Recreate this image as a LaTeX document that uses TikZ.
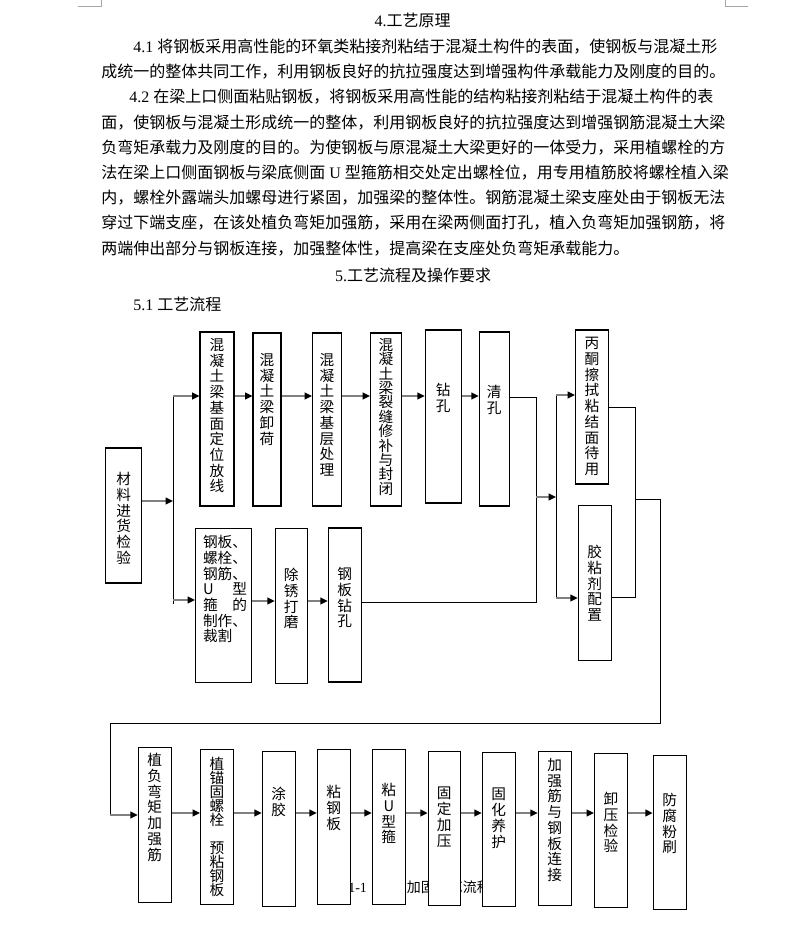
\documentclass[tikz,border=0pt]{standalone}
\usepackage{fontspec}
\setmainfont{Liberation Serif}
\newfontfamily\cjk{Noto Sans CJK SC}
\usetikzlibrary{arrows.meta}
\newcommand{\rmn}[1]{{\rmfamily #1}}

\begin{document}
\begin{tikzpicture}[x=0.75pt, y=-0.75pt,
    txt/.style={anchor=base west, inner sep=0pt, font=\cjk\fontsize{12}{14}\selectfont},
    ttl/.style={txt, anchor=base},
    box/.style={draw, rectangle, fill=white, line width=0.8pt, inner sep=0pt},
    sz/.style 2 args={minimum width=#1*0.75pt, minimum height=#2*0.75pt},
    vt/.style={anchor=north, align=center, inner sep=0pt, font=\cjk\fontsize{11}{11.8}\selectfont},
    ln/.style={draw, line width=0.75pt},
    arr/.style={draw=gray, line width=1.5pt, -{Triangle[length=5.5pt, width=5pt, color=black]}},
    cropln/.style={draw=gray!70, line width=0.5pt}]
    \useasboundingbox (0,0) rectangle (794,927);

    % page corner marks
    \draw[cropln] (78,6) -- (101,6) -- (101,0);
    \draw[cropln] (748,6) -- (725,6) -- (725,0);

    % text above the chart
    \node[ttl] (t4) at (412.5,26.7) {\rmn{4.}工艺原理};
    \node[txt] (p1) at (133,52.5) {\rmn{4.1 }将钢板采用高性能的环氧类粘接剂粘结于混凝土构件的表面，使钢板与混凝土形};
    \node[txt] (p2) at (101,77.7) {成统一的整体共同工作，利用钢板良好的抗拉强度达到增强构件承载能力及刚度的目的。};
    \node[txt] (p3) at (129,102.9) {\rmn{4.2 }在梁上口侧面粘贴钢板，将钢板采用高性能的结构粘接剂粘结于混凝土构件的表};
    \node[txt] (p4) at (101,128.1) {面，使钢板与混凝土形成统一的整体，利用钢板良好的抗拉强度达到增强钢筋混凝土大梁};
    \node[txt] (p5) at (101,153.3) {负弯矩承载力及刚度的目的。为使钢板与原混凝土大梁更好的一体受力，采用植螺栓的方};
    \node[txt] (p6) at (101,178.5) {法在梁上口侧面钢板与梁底侧面\rmn{ U }型箍筋相交处定出螺栓位，用专用植筋胶将螺栓植入梁};
    \node[txt] (p7) at (101,203.7) {内，螺栓外露端头加螺母进行紧固，加强梁的整体性。钢筋混凝土梁支座处由于钢板无法};
    \node[txt] (p8) at (101,228.9) {穿过下端支座，在该处植负弯矩加强筋，采用在梁两侧面打孔，植入负弯矩加强钢筋，将};
    \node[txt] (p9) at (101,254.1) {两端伸出部分与钢板连接，加强整体性，提高梁在支座处负弯矩承载能力。};
    \node[ttl] (t5) at (413,281) {\rmn{5.}工艺流程及操作要求};
    \node[txt] (t51) at (133,310) {\rmn{5.1 }工艺流程};

    % caption, partly hidden behind the bottom row
    \node[txt, font=\cjk\fontsize{10.5}{12}\selectfont] (cap) at (334,892) {图\rmn{1-1}\hspace{9pt}粘钢加固工艺流程图};

    % boxes
    \node[box, sz={36}{135}] (cailiao) at (123.7,515.5) {};
    \node[box, sz={34}{174}] (jimian) at (217,419) {};
    \node[box, sz={28}{173}] (xiehe) at (267,419.5) {};
    \node[box, sz={29}{173}] (jiceng) at (327,419.5) {};
    \node[box, sz={31}{173}] (liefeng) at (386,419.5) {};
    \node[box, sz={36}{173}] (zuankong) at (443.3,416.5) {};
    \node[box, sz={30}{174}] (qingkong) at (494.3,419) {};
    \node[box, sz={33}{154}] (bingtong) at (592,407) {};
    \node[box, sz={33}{155}] (jiaonian) at (594.8,582.7) {};
    \node[box, sz={56}{154}] (zhizuo) at (223.5,605.3) {};
    \node[box, sz={32}{155}] (chuxiu) at (291.3,605.8) {};
    \node[box, sz={33}{154}] (gbzk) at (344.8,605) {};
    \node[box, sz={33}{155}] (zhifu) at (154.8,824.8) {};
    \node[box, sz={33}{155}] (zhimao) at (217,826.7) {};
    \node[box, sz={33}{155}] (tujiao) at (278.8,828.7) {};
    \node[box, sz={33}{155}] (zhangb) at (333.8,826.7) {};
    \node[box, sz={33}{155}] (zhanu) at (388.8,826.7) {};
    \node[box, sz={32}{154}] (guding) at (444.2,828.8) {};
    \node[box, sz={33}{154}] (guhua) at (498.8,829.5) {};
    \node[box, sz={33}{154}] (jiaqiang) at (554.8,828.8) {};
    \node[box, sz={33}{154}] (xieya) at (611,830.5) {};
    \node[box, sz={33}{154}] (fangfu) at (669.7,832.3) {};

    % box texts
    \node[vt] (cailiao-t) at (123.7,472) {材\\料\\进\\货\\检\\验};
    \node[vt] (jimian-t) at (217,338) {混\\凝\\土\\梁\\基\\面\\定\\位\\放\\线};
    \node[vt] (xiehe-t) at (267,353) {混\\凝\\土\\梁\\卸\\荷};
    \node[vt] (jiceng-t) at (327,353) {混\\凝\\土\\梁\\基\\层\\处\\理};
    \node[vt, font=\cjk\fontsize{11}{10.8}\selectfont] (liefeng-t) at (386,338) {混\\凝\\土\\梁\\裂\\缝\\修\\补\\与\\封\\闭};
    \node[vt] (zuankong-t) at (443.3,383) {钻\\孔};
    \node[vt] (qingkong-t) at (494.3,385) {清\\孔};
    \node[vt] (bingtong-t) at (592,337) {丙\\酮\\擦\\拭\\粘\\结\\面\\待\\用};
    \node[vt] (jiaonian-t) at (594.8,545) {胶\\粘\\剂\\配\\置};
    \node[vt, align=left, text width=33pt] (zhizuo-t) at (225,535) {钢板、\\螺栓、\\钢筋、\\U\hfill 型\\箍\hfill 的\\制作、\\裁割};
    \node[vt] (chuxiu-t) at (291.3,568) {除\\锈\\打\\磨};
    \node[vt] (gbzk-t) at (344.8,567) {钢\\板\\钻\\孔};
    \node[vt] (zhifu-t) at (154.8,753) {植\\负\\弯\\矩\\加\\强\\筋};
    \node[vt, font=\cjk\fontsize{11}{10.5}\selectfont] (zhimao-t) at (217,757) {植\\锚\\固\\螺\\栓\\[10.5pt]预\\粘\\钢\\板};
    \node[vt] (tujiao-t) at (278.8,787) {涂\\胶};
    \node[vt] (zhangb-t) at (333.8,785) {粘\\钢\\板};
    \node[vt] (zhanu-t) at (388.8,783) {粘\\U\\型\\箍};
    \node[vt] (guding-t) at (444.2,787) {固\\定\\加\\压};
    \node[vt] (guhua-t) at (498.8,788) {固\\化\\养\\护};
    \node[vt] (jiaqiang-t) at (554.8,758) {加\\强\\筋\\与\\钢\\板\\连\\接};
    \node[vt] (xieya-t) at (611,792) {卸\\压\\检\\验};
    \node[vt] (fangfu-t) at (669.7,793) {防\\腐\\粉\\刷};

    % junction points
    \coordinate (r1) at (0,396);
    \coordinate (r2) at (0,601);
    \coordinate (r3) at (0,813);
    \coordinate (busA) at (173,396);
    \coordinate (busAm) at (173,501);
    \coordinate (busAl) at (173,600);
    \coordinate (busAb) at (173,604);
    \coordinate (bB1) at (536,397);
    \coordinate (bB2) at (536,602);
    \coordinate (bBm) at (536,497);
    \coordinate (bC1) at (556,395);
    \coordinate (bC2) at (556,598);
    \coordinate (bCm) at (556,497);
    \coordinate (bD1) at (635,407);
    \coordinate (bD2) at (635,597);
    \coordinate (bDm) at (635,499);
    \coordinate (bE1) at (660,499);
    \coordinate (bE2) at (660,723);
    \coordinate (bE3) at (110,723);
    \coordinate (bE4) at (110,815);

    % connectors
    \draw[arr] (cailiao.east |- busAm) -- (busAm);
    \draw[ln] (busA) -- (busAb);
    \draw[arr] (busA) -- (jimian.west |- busA);
    \draw[arr] (busAl) -- (zhizuo.west |- busAl);

    \draw[arr] (jimian.east |- r1) -- (xiehe.west |- r1);
    \draw[arr] (xiehe.east |- r1) -- (jiceng.west |- r1);
    \draw[arr] (jiceng.east |- r1) -- (liefeng.west |- r1);
    \draw[arr] (liefeng.east |- r1) -- (zuankong.west |- r1);
    \draw[arr] (zuankong.east |- r1) -- (qingkong.west |- r1);

    \draw[arr] (zhizuo.east |- r2) -- (chuxiu.west |- r2);
    \draw[arr] (chuxiu.east |- r2) -- (gbzk.west |- r2);

    \draw[ln] (qingkong.east |- bB1) -- (bB1) -- (bB2) -- (gbzk.east |- bB2);
    \draw[arr] (bBm) -- (bCm);
    \draw[ln] (bC1) -- (bC2);
    \draw[arr] (bC1) -- (bingtong.west |- bC1);
    \draw[arr] (bC2) -- (jiaonian.west |- bC2);

    \draw[ln] (bingtong.east) -- (bD1) -- (bD2) -- (jiaonian.east |- bD2);
    \draw[ln] (bDm) -- (bE1) -- (bE2) -- (bE3) -- (bE4);
    \draw[arr] (bE4) -- (zhifu.west |- bE4);

    \draw[arr] (zhifu.east |- r3) -- (zhimao.west |- r3);
    \draw[arr] (zhimao.east |- r3) -- (tujiao.west |- r3);
    \draw[arr] (tujiao.east |- r3) -- (zhangb.west |- r3);
    \draw[arr] (zhangb.east |- r3) -- (zhanu.west |- r3);
    \draw[arr] (zhanu.east |- r3) -- (guding.west |- r3);
    \draw[arr] (guding.east |- r3) -- (guhua.west |- r3);
    \draw[arr] (guhua.east |- r3) -- (jiaqiang.west |- r3);
    \draw[arr] (jiaqiang.east |- r3) -- (xieya.west |- r3);
    \draw[arr] (xieya.east |- r3) -- (fangfu.west |- r3);
\end{tikzpicture}
\end{document}
